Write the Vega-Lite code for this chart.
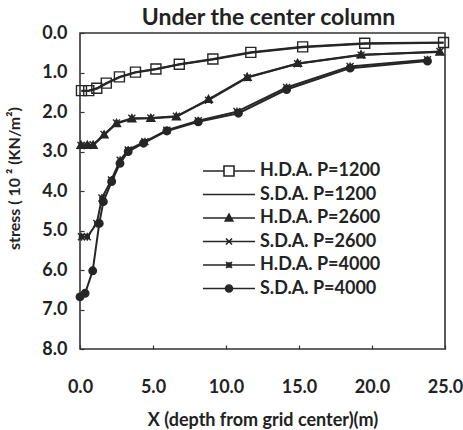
{
  "$schema": "https://vega.github.io/schema/vega-lite/v6.json",
  "width": 365,
  "height": 316,
  "autosize": {"type": "none"},
  "padding": {"left": 80, "top": 33, "right": 18, "bottom": 81},
  "background": "white",
  "title": {"text": "Under the center column", "font": "Lato", "fontSize": 23, "fontWeight": "bold", "color": "#222", "anchor": "middle", "dx": 6, "dy": 11, "frame": "group", "offset": 5},
  "config": {
    "view": {"stroke": "#333", "strokeWidth": 1.6},
    "axis": {"labelFont": "Lato", "labelFontWeight": "bold", "labelFontSize": 18, "labelColor": "#222", "labelFlush": false, "titleFont": "Lato", "titleFontWeight": "bold", "titleColor": "#222", "grid": false, "domain": false, "tickColor": "#333", "tickWidth": 1.2}
  },
  "data": {"values": [
    {"series": "H.D.A. P=1200", "x": 0.1, "y": 1.46},
    {"series": "H.D.A. P=1200", "x": 0.6, "y": 1.46},
    {"series": "H.D.A. P=1200", "x": 1.15, "y": 1.4},
    {"series": "H.D.A. P=1200", "x": 1.8, "y": 1.27},
    {"series": "H.D.A. P=1200", "x": 2.7, "y": 1.11},
    {"series": "H.D.A. P=1200", "x": 3.8, "y": 0.99},
    {"series": "H.D.A. P=1200", "x": 5.2, "y": 0.91},
    {"series": "H.D.A. P=1200", "x": 6.8, "y": 0.79},
    {"series": "H.D.A. P=1200", "x": 9.1, "y": 0.66},
    {"series": "H.D.A. P=1200", "x": 11.7, "y": 0.49},
    {"series": "H.D.A. P=1200", "x": 15.25, "y": 0.35},
    {"series": "H.D.A. P=1200", "x": 19.5, "y": 0.26},
    {"series": "H.D.A. P=1200", "x": 24.9, "y": 0.24},
    {"series": "S.D.A. P=1200", "x": 0.1, "y": 1.47},
    {"series": "S.D.A. P=1200", "x": 0.6, "y": 1.46},
    {"series": "S.D.A. P=1200", "x": 1.15, "y": 1.41},
    {"series": "S.D.A. P=1200", "x": 1.8, "y": 1.28},
    {"series": "S.D.A. P=1200", "x": 2.7, "y": 1.12},
    {"series": "S.D.A. P=1200", "x": 3.8, "y": 1.0},
    {"series": "S.D.A. P=1200", "x": 5.2, "y": 0.92},
    {"series": "S.D.A. P=1200", "x": 6.8, "y": 0.8},
    {"series": "S.D.A. P=1200", "x": 9.1, "y": 0.67},
    {"series": "S.D.A. P=1200", "x": 11.7, "y": 0.5},
    {"series": "S.D.A. P=1200", "x": 15.25, "y": 0.36},
    {"series": "S.D.A. P=1200", "x": 19.5, "y": 0.27},
    {"series": "S.D.A. P=1200", "x": 24.9, "y": 0.25},
    {"series": "H.D.A. P=2600", "x": 0.07, "y": 2.84},
    {"series": "H.D.A. P=2600", "x": 0.5, "y": 2.84},
    {"series": "H.D.A. P=2600", "x": 0.9, "y": 2.84},
    {"series": "H.D.A. P=2600", "x": 1.65, "y": 2.58},
    {"series": "H.D.A. P=2600", "x": 2.5, "y": 2.29},
    {"series": "H.D.A. P=2600", "x": 3.55, "y": 2.17},
    {"series": "H.D.A. P=2600", "x": 4.85, "y": 2.16},
    {"series": "H.D.A. P=2600", "x": 6.6, "y": 2.12},
    {"series": "H.D.A. P=2600", "x": 8.8, "y": 1.68},
    {"series": "H.D.A. P=2600", "x": 11.45, "y": 1.12},
    {"series": "H.D.A. P=2600", "x": 14.9, "y": 0.77},
    {"series": "H.D.A. P=2600", "x": 19.25, "y": 0.55},
    {"series": "H.D.A. P=2600", "x": 24.65, "y": 0.48},
    {"series": "S.D.A. P=2600", "x": 0.07, "y": 2.85},
    {"series": "S.D.A. P=2600", "x": 0.5, "y": 2.85},
    {"series": "S.D.A. P=2600", "x": 0.9, "y": 2.83},
    {"series": "S.D.A. P=2600", "x": 1.65, "y": 2.57},
    {"series": "S.D.A. P=2600", "x": 2.5, "y": 2.28},
    {"series": "S.D.A. P=2600", "x": 3.55, "y": 2.16},
    {"series": "S.D.A. P=2600", "x": 4.85, "y": 2.15},
    {"series": "S.D.A. P=2600", "x": 6.6, "y": 2.11},
    {"series": "S.D.A. P=2600", "x": 8.8, "y": 1.7},
    {"series": "S.D.A. P=2600", "x": 11.45, "y": 1.13},
    {"series": "S.D.A. P=2600", "x": 14.9, "y": 0.78},
    {"series": "S.D.A. P=2600", "x": 19.25, "y": 0.56},
    {"series": "S.D.A. P=2600", "x": 24.65, "y": 0.47},
    {"series": "H.D.A. P=4000", "x": 0.1, "y": 5.16},
    {"series": "H.D.A. P=4000", "x": 0.5, "y": 5.16},
    {"series": "H.D.A. P=4000", "x": 1.15, "y": 4.82},
    {"series": "H.D.A. P=4000", "x": 1.5, "y": 4.18},
    {"series": "H.D.A. P=4000", "x": 2.15, "y": 3.72},
    {"series": "H.D.A. P=4000", "x": 2.75, "y": 3.22},
    {"series": "H.D.A. P=4000", "x": 3.3, "y": 2.96},
    {"series": "H.D.A. P=4000", "x": 4.45, "y": 2.75},
    {"series": "H.D.A. P=4000", "x": 5.95, "y": 2.46},
    {"series": "H.D.A. P=4000", "x": 8.1, "y": 2.22},
    {"series": "H.D.A. P=4000", "x": 10.75, "y": 1.99},
    {"series": "H.D.A. P=4000", "x": 14.15, "y": 1.38},
    {"series": "H.D.A. P=4000", "x": 18.5, "y": 0.85},
    {"series": "H.D.A. P=4000", "x": 23.8, "y": 0.68},
    {"series": "S.D.A. P=4000", "x": 0.0, "y": 6.68},
    {"series": "S.D.A. P=4000", "x": 0.35, "y": 6.59},
    {"series": "S.D.A. P=4000", "x": 0.87, "y": 6.02},
    {"series": "S.D.A. P=4000", "x": 1.32, "y": 4.82},
    {"series": "S.D.A. P=4000", "x": 1.6, "y": 4.27},
    {"series": "S.D.A. P=4000", "x": 2.17, "y": 3.76},
    {"series": "S.D.A. P=4000", "x": 2.74, "y": 3.3},
    {"series": "S.D.A. P=4000", "x": 3.3, "y": 3.0},
    {"series": "S.D.A. P=4000", "x": 4.35, "y": 2.79},
    {"series": "S.D.A. P=4000", "x": 5.95, "y": 2.48},
    {"series": "S.D.A. P=4000", "x": 8.1, "y": 2.25},
    {"series": "S.D.A. P=4000", "x": 10.85, "y": 2.03},
    {"series": "S.D.A. P=4000", "x": 14.15, "y": 1.43},
    {"series": "S.D.A. P=4000", "x": 18.5, "y": 0.89},
    {"series": "S.D.A. P=4000", "x": 23.8, "y": 0.71}
  ]},
  "encoding": {
    "x": {"field": "x", "type": "quantitative", "scale": {"domain": [0, 25], "nice": false},
      "axis": {"values": [0, 5, 10, 15, 20, 25], "format": ".1f", "tickSize": -4, "labelPadding": 33, "title": "X (depth from grid center)(m)", "titleFontSize": 18, "titlePadding": 15}},
    "y": {"field": "y", "type": "quantitative", "scale": {"domain": [0, 8], "reverse": true, "nice": false},
      "axis": {"values": [0, 1, 2, 3, 4, 5, 6, 7, 8], "format": ".1f", "tickSize": -4, "labelPadding": 17, "title": "stress  ( 10 ² (KN/m²)", "titleFontSize": 16, "titleX": -58, "titleY": 145}}
  },
  "layer": [
    {"mark": {"type": "line", "color": "#262626", "strokeWidth": 2},
     "encoding": {"detail": {"field": "series"}}},
    {"mark": {"type": "point", "filled": true, "fill": "#262626", "stroke": "#262626", "strokeWidth": 1.4, "size": 100, "opacity": 1},
     "encoding": {"shape": {"field": "series", "type": "nominal", "legend": null,
       "scale": {"domain": ["H.D.A. P=1200", "S.D.A. P=1200", "H.D.A. P=2600", "S.D.A. P=2600", "H.D.A. P=4000", "S.D.A. P=4000"],
         "range": [
           "M-1,-1H1V1H-1Z M-1,-1V1H1V-1Z",
           "M0,0L0,0",
           "M0,-0.8L0.8,0.6H-0.8Z",
           "M-0.7,-0.7L0.7,0.7M-0.7,0.7L0.7,-0.7",
           "M-0.7,-0.7L0.7,0.7M-0.7,0.7L0.7,-0.7M0,-0.8V0.8M-0.4,-0.4H0.4V0.4H-0.4Z",
           "M-0.75,0A0.75,0.75,0,1,0,0.75,0A0.75,0.75,0,1,0,-0.75,0Z"
         ]}}}},
    {"mark": {"type": "point", "filled": false, "stroke": "#262626", "strokeWidth": 1.6, "size": 0, "opacity": 1},
     "encoding": {"shape": {"field": "series", "type": "nominal",
       "scale": {"domain": ["H.D.A. P=1200", "S.D.A. P=1200", "H.D.A. P=2600", "S.D.A. P=2600", "H.D.A. P=4000", "S.D.A. P=4000"],
         "range": [
           "M-5.2,0H-1M1,0H5.2M-1,-1H1V1H-1Z M-1,-1V1H1V-1Z",
           "M-5.2,0H5.2",
           "M-5.2,0H5.2M0,-0.75L0.75,0.6H-0.75ZM0,-0.35L0.35,0.3H-0.35Z",
           "M-5.2,0H5.2M-0.6,-0.6L0.6,0.6M-0.6,0.6L0.6,-0.6",
           "M-5.2,0H5.2M-0.6,-0.6L0.6,0.6M-0.6,0.6L0.6,-0.6M-0.4,-0.4H0.4V0.4H-0.4ZM-0.15,-0.15H0.15V0.15H-0.15Z",
           "M-5.2,0H5.2M-0.7,0A0.7,0.7,0,1,0,0.7,0A0.7,0.7,0,1,0,-0.7,0ZM-0.4,0A0.4,0.4,0,1,0,0.4,0A0.4,0.4,0,1,0,-0.4,0ZM-0.12,0A0.12,0.12,0,1,0,0.12,0A0.12,0.12,0,1,0,-0.12,0Z"
         ]},
       "legend": {"title": null, "orient": "none", "legendX": 140, "legendY": 129, "padding": 0,
         "symbolSize": 100, "symbolStrokeColor": "#262626", "symbolStrokeWidth": 1.6, "symbolOpacity": 1,
         "labelFont": "Lato", "labelFontWeight": "bold", "labelFontSize": 18, "labelColor": "#222", "labelOffset": 22, "rowPadding": 5.5}}}}
  ],
  "resolve": {"scale": {"shape": "independent"}}
}
